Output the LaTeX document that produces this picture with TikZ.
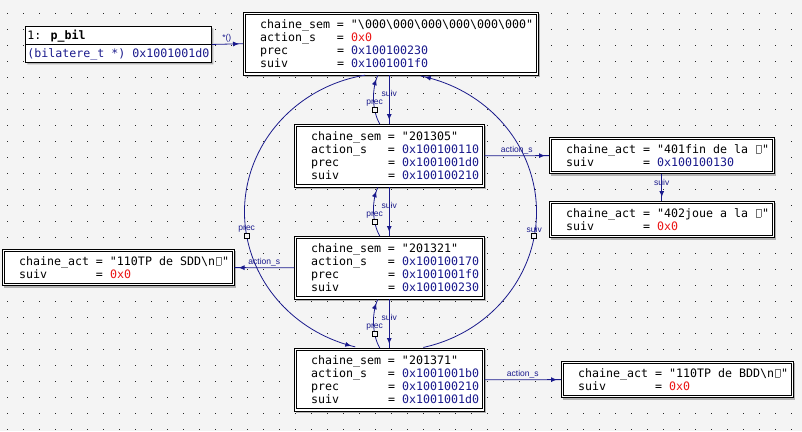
\documentclass[tikz,border=0pt]{standalone}
\usepackage{fontspec}
\usetikzlibrary{arrows.meta,calc,positioning,shadows,shapes.multipart,decorations.markings}

\newfontfamily\ddmonofam{DejaVu Sans Mono}
\newfontfamily\ddlblfam{Liberation Sans}
\newcommand\ddmono{\ddmonofam\fontsize{11.63pt}{13pt}\selectfont}
\newcommand\ddlbl{\ddlblfam\fontsize{8.5pt}{9pt}\selectfont}

\definecolor{ddblue}{RGB}{26,26,140}
\definecolor{ddred}{RGB}{235,20,20}
\definecolor{ddbg}{RGB}{244,244,244}

% une ligne d'un champ : nom sur 10 caracteres, " = ", valeur
\newcommand\rs{\rule[-2.5pt]{0pt}{13pt}}
\newcommand\fld[2]{\rs\makebox[70pt][l]{#1}\makebox[21pt]{=}#2}
\newcommand\adr[1]{\textcolor{ddblue}{#1}}
\newcommand\nul{\textcolor{ddred}{0x0}}
\newcommand\nochar{\makebox[7pt]{\color{black!55}\fboxsep=0pt\fboxrule=0.4pt\fbox{\rule{0pt}{8pt}\hspace{4pt}}}}
\newcommand\champs[1]{\hspace*{16.6pt}{\renewcommand\arraystretch{0}\begin{tabular}{@{}l@{}}#1\end{tabular}}\hspace*{5.1pt}}

\begin{document}
\begin{tikzpicture}[x=1pt, y=-1pt,
	membox/.style={draw=black, line width=0.8pt, fill=white,
		drop shadow={shadow xshift=2pt, shadow yshift=-2pt, fill=black!30, opacity=1},
		inner xsep=0pt, inner ysep=5.1pt, anchor=north west, font=\ddmono},
	ptrbox/.style={rectangle split, rectangle split parts=2, rectangle split part align=left,
		draw=black, line width=0.8pt, fill=white,
		drop shadow={shadow xshift=2pt, shadow yshift=-2pt, fill=black!30, opacity=1},
		inner xsep=2pt, inner ysep=2pt, anchor=north west, font=\ddmono},
	ptr/.style={color=ddblue, line width=0.8pt, postaction={decorate},
		decoration={markings, mark=at position -4pt with {\arrow{Latex[length=6pt,width=5pt]}}}},
	lbl/.style={font=\ddlbl, text=ddblue, inner sep=1pt},
	sq/.style={draw=black, fill=ddbg, line width=0.6pt, minimum size=5pt, inner sep=0pt}]

	% fond pointille
	\useasboundingbox (0,0) rectangle (802,431);
	\fill[ddbg] (0,0) rectangle (802,431);
	\foreach \i in {0,...,49}
		\foreach \j in {0,...,26}
			\fill[black!85] (7+16*\i,13+16*\j) rectangle ++(1,1);

	% pointeur p_bil
	\node[ptrbox] (pbil) at (25,26) {\rs 1: \textbf{p\_bil}\nodepart{two}\rs\adr{(bilatere\_t *) 0x1001001d0}};

	% maillons de la liste
	\node[membox] (sent) at (243,12) {\champs{%
		\fld{chaine\_sem}{"\textbackslash 000\textbackslash 000\textbackslash 000\textbackslash 000\textbackslash 000\textbackslash 000"}\\
		\fld{action\_s}{\nul}\\
		\fld{prec}{\adr{0x100100230}}\\
		\fld{suiv}{\adr{0x1001001f0}}}};
	\node[membox] (s305) at (294,124) {\champs{%
		\fld{chaine\_sem}{"201305"}\\
		\fld{action\_s}{\adr{0x100100110}}\\
		\fld{prec}{\adr{0x1001001d0}}\\
		\fld{suiv}{\adr{0x100100210}}}};
	\node[membox] (s321) at (294,236) {\champs{%
		\fld{chaine\_sem}{"201321"}\\
		\fld{action\_s}{\adr{0x100100170}}\\
		\fld{prec}{\adr{0x1001001f0}}\\
		\fld{suiv}{\adr{0x100100230}}}};
	\node[membox] (s371) at (294,348) {\champs{%
		\fld{chaine\_sem}{"201371"}\\
		\fld{action\_s}{\adr{0x1001001b0}}\\
		\fld{prec}{\adr{0x100100210}}\\
		\fld{suiv}{\adr{0x1001001d0}}}};

	% actions
	\node[membox] (a401) at (549,137) {\champs{%
		\fld{chaine\_act}{"401fin de la \nochar"}\\
		\fld{suiv}{\adr{0x100100130}}}};
	\node[membox] (a402) at (549,201) {\champs{%
		\fld{chaine\_act}{"402joue a la \nochar"}\\
		\fld{suiv}{\nul}}};
	\node[membox] (aSDD) at (2,249) {\champs{%
		\fld{chaine\_act}{"110TP de SDD\textbackslash n\nochar"}\\
		\fld{suiv}{\nul}}};
	\node[membox] (aBDD) at (561,361) {\champs{%
		\fld{chaine\_act}{"110TP de BDD\textbackslash n\nochar"}\\
		\fld{suiv}{\nul}}};

	% second cadre interieur
	\foreach \n in {sent,s305,s321,s371,a401,a402,aSDD,aBDD}
		\draw[line width=0.8pt] ([shift={(2.6,2.6)}]\n.north west) rectangle ([shift={(-2.6,-2.6)}]\n.south east);

	% p_bil vers la tete
	\draw[ptr] (pbil.east) -- node[lbl, above, pos=0.48] {*()} (sent.west);

	% liens suiv
	\draw[ptr] (sent.south -| s305.north) -- node[lbl, pos=0.37] {suiv} (s305.north);
	\draw[ptr] (s305.south) -- node[lbl, pos=0.37] {suiv} (s321.north);
	\draw[ptr] (s321.south) -- node[lbl, pos=0.37] {suiv} (s371.north);

	% liens prec
	\draw[ptr] ($(s305.north)+(-9.5,0)$) .. controls +(-8,-14) and +(-6,13) .. ($(sent.south -| s305.north)+(-11.5,0)$) node[sq, pos=0.3] (q1) {};
	\draw[ptr] ($(s321.north)+(-9.5,0)$) .. controls +(-8,-14) and +(-6,13) .. ($(s305.south)+(-11.5,0)$) node[sq, pos=0.3] (q2) {};
	\draw[ptr] ($(s371.north)+(-9.5,0)$) .. controls +(-8,-14) and +(-6,13) .. ($(s321.south)+(-11.5,0)$) node[sq, pos=0.3] (q3) {};
	\node[lbl, above=0pt of q1] {prec};
	\node[lbl, above=0pt of q2] {prec};
	\node[lbl, above=0pt of q3] {prec};

	% boucle : tete <-> dernier maillon
	\coordinate (ring) at (390.5,212);
	\path (ring) ++(260:146 and 139) coordinate (gA);
	\path (ring) ++(77:146 and 139) coordinate (gB);
	\draw[ptr] (gA) arc[start angle=260, end angle=104, x radius=146, y radius=139];
	\draw[ptr] (gB) arc[start angle=77, end angle=-78, x radius=146, y radius=139];
	\node[sq] (qL) at ($(ring)+(170:146 and 139)$) {};
	\node[lbl, above=0pt of qL] {prec};
	\node[sq] (qR) at ($(ring)+(10:146 and 139)$) {};
	\node[lbl, above=0pt of qR] {suiv};

	% liens action_s
	\draw[ptr] (s305.east) -- node[lbl, above] {action\_s} (a401.west);
	\draw[ptr] (s321.west) -- node[lbl, above] {action\_s} (aSDD.east);
	\draw[ptr] (s371.east) -- node[lbl, above] {action\_s} (aBDD.west);
	\draw[ptr] (a401.south) -- node[lbl, pos=0.3] {suiv} (a402.north);

\end{tikzpicture}
\end{document}
